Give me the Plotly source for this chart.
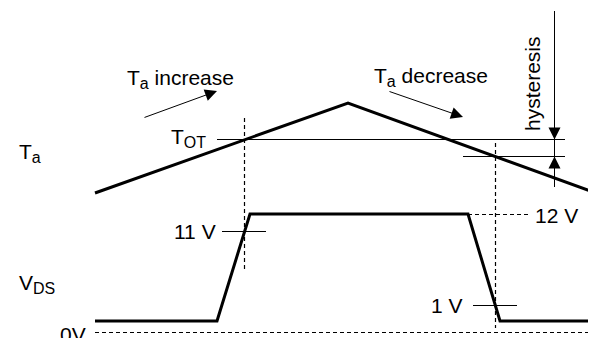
import plotly.graph_objects as go

# diagram units: x = time (left -> right), y = level (top -> bottom, axis reversed)
ta_t = [95, 348, 596]
ta_level = [193, 103, 193]

vds_t = [95, 217, 250, 468, 500, 596]
vds_level = [321, 321, 214, 214, 321, 321]

t_ot = 139.5        # over-temperature threshold
t_release = 156.5   # threshold minus hysteresis
t_on = 244.5        # Ta crosses T_OT going up
t_off = 495.5       # Ta crosses release level going down
hyst_x = 554.5
hyst_top, hyst_bottom = 11, 187

v11 = 231.5
v12 = 214.5
v1 = 305.5
v0 = 332.5

FONT = dict(family="Arial, Liberation Sans, sans-serif", size=21, color="black")
THICK = dict(color="black", width=3)
THIN = dict(color="black", width=1)
DASH = dict(color="black", width=1.2, dash="4px,3px")

fig = go.Figure()

def seg(x, y, line):
    fig.add_trace(go.Scatter(x=x, y=y, mode="lines", line=line,
                             hoverinfo="skip", showlegend=False))

def sub(s):
    return f'<sub><span style="font-size:16px">{s}</span></sub>'

# === Ta waveform ===
seg(ta_t, ta_level, THICK)
seg([217, 565], [t_ot, t_ot], THIN)
seg([463, 565], [t_release, t_release], THIN)
seg([hyst_x, hyst_x], [hyst_top, hyst_bottom], THIN)

# === VDS waveform ===
seg(vds_t, vds_level, THICK)
seg([222, 266], [v11, v11], THIN)
seg([473, 517], [v1, v1], THIN)
seg([468, 528], [v12, v12], DASH)
seg([95, 590], [v0, v0], DASH)

# === timing markers ===
seg([t_on, t_on], [118, 272], DASH)
seg([t_off, t_off], [143, 328], DASH)

def arrow(x, y, ax, ay):
    fig.add_annotation(x=x, y=y, ax=ax, ay=ay, xref="x", yref="y",
                       axref="x", ayref="y", text="", showarrow=True,
                       arrowhead=2, arrowsize=2.4, arrowwidth=1,
                       arrowcolor="black", standoff=0)

arrow(217, 91, 143, 118)
arrow(463, 117, 388, 91)
arrow(hyst_x, t_ot, hyst_x, t_ot - 14)
arrow(hyst_x, t_release, hyst_x, t_release + 14)

def label(x, y, text, xanchor="left", angle=0):
    fig.add_annotation(x=x, y=y, xref="x", yref="y", text=text,
                       showarrow=False, font=FONT, xanchor=xanchor,
                       yanchor="middle", textangle=angle)

label(125, 79, "T" + sub("a") + " increase")
label(372, 77, "T" + sub("a") + " decrease")
label(169, 138, "T" + sub("OT"))
label(17, 153, "T" + sub("a"))
label(17, 284, "V" + sub("DS"))
label(218, 231, "11 V", xanchor="right")
label(533, 215, "12 V")
label(465, 305, "1 V", xanchor="right")
label(88, 334, "0V", xanchor="right")
label(532, 84, "hysteresis", xanchor="center", angle=-90)

# the page body keeps an 8px margin, so the figure sits at (8, 8):
# size it to fill the rest of the window and keep 1 unit = 1 px
fig.update_xaxes(range=[8, 596], visible=False, fixedrange=True)
fig.update_yaxes(range=[338, 8], visible=False, fixedrange=True)
fig.update_layout(
    width=588, height=330,
    margin=dict(l=0, r=0, t=0, b=0),
    paper_bgcolor="white", plot_bgcolor="white",
)

fig.write_html("out.html")
